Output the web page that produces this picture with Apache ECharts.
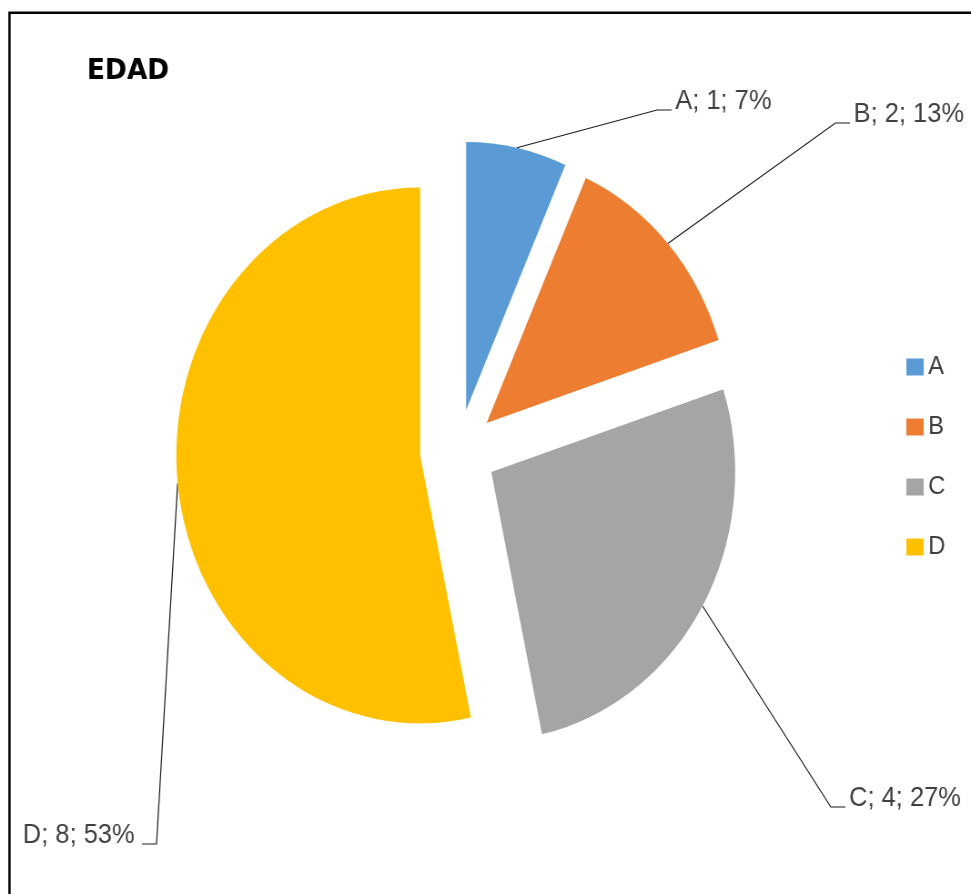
<!DOCTYPE html>
<html><head><meta charset="utf-8">
<script src="https://cdn.jsdelivr.net/npm/echarts@6/dist/echarts.min.js"></script>
<style>
html,body{margin:0;padding:0;overflow:hidden;background:#fff;width:971px;height:894px}
#chart{width:1067px;height:894px;transform:scaleX(0.91);transform-origin:0 0;}
</style>
</head><body><div id="chart"></div>
<script>
const categories = ['A', 'B', 'C', 'D'];
const values = [1, 2, 4, 8];
const colors = ['#5B9BD5', '#ED7D31', '#A5A5A5', '#FFC000'];
const titleText = 'EDAD';

// pie geometry (chart px before the horizontal squeeze)
const CX = 503.5, CY = 451, R = 268, EXPLODE = 42;

// label placement: x = label box edge, y = leader line height
const labelPlace = [
  {x: 738, y: 110, side: 'left'},
  {x: 934, y: 123, side: 'left'},
  {x: 929, y: 807, side: 'left'},
  {x: 156, y: 844, side: 'right'}
];
const LEAD = 16;      // short horizontal tail of the leader line
const TEXT_RISE = 9;  // text sits a little above the leader tail

const total = values.reduce((a, b) => a + b, 0);
let cum = 0;
const series = categories.map((cat, k) => {
  // every slice is pulled out along its own middle angle (clockwise from 12 o'clock)
  const mid = (cum + values[k] / 2) / total * 2 * Math.PI;
  cum += values[k];
  return {
    type: 'pie',
    name: cat,
    center: [CX + EXPLODE * Math.sin(mid), CY - EXPLODE * Math.cos(mid)],
    radius: R,
    startAngle: 90,
    clockwise: true,
    percentPrecision: 0,
    avoidLabelOverlap: false,
    silent: true,
    emphasis: {disabled: true},
    itemStyle: {borderWidth: 0},
    label: {
      show: true, formatter: '{b}; {c}; {d}%',
      fontFamily: 'Liberation Sans', fontSize: 28, color: '#404040',
      padding: [0, 8, 0, 4]
    },
    labelLine: {show: true, length: 10, length2: 10, lineStyle: {color: '#1a1a1a', width: 1.2}},
    labelLayout: function (p) {
      const L = labelPlace[p.dataIndex];
      const a = p.labelLinePoints ? p.labelLinePoints[0] : [L.x, L.y];
      const dir = L.side === 'left' ? -1 : 1;
      return {
        x: L.x, y: L.y - TEXT_RISE, align: L.side, verticalAlign: 'middle',
        labelLinePoints: [a, [L.x + dir * LEAD, L.y], [L.x, L.y]]
      };
    },
    data: categories.map((n, i) => ({
      name: n,
      value: values[i],
      itemStyle: {color: i === k ? colors[i] : 'rgba(0,0,0,0)'},
      label: {show: i === k},
      labelLine: {show: i === k}
    }))
  };
});

const chart = echarts.init(document.getElementById('chart'), null, {renderer: 'canvas'});
chart.setOption({
  animation: false,
  title: {
    text: titleText, left: 95.5, top: 57, padding: 0,
    textStyle: {fontFamily: 'DejaVu Sans', fontWeight: 'bold', fontSize: 29, color: '#000'}
  },
  legend: {
    orient: 'vertical', left: 996, top: 354, padding: 0,
    itemWidth: 19, itemHeight: 17, itemGap: 34,
    icon: 'rect', selectedMode: false,
    data: categories.map((n, i) => ({name: n, itemStyle: {color: colors[i]}})),
    textStyle: {fontFamily: 'Liberation Sans', fontSize: 26, lineHeight: 26, color: '#404040'}
  },
  graphic: [{
    type: 'rect', silent: true,
    shape: {x: 10.4, y: 12.8, width: 3000, height: 3000},
    style: {fill: 'none', stroke: '#000', lineWidth: 2.5}
  }],
  series: series
});
</script>
</body></html>
